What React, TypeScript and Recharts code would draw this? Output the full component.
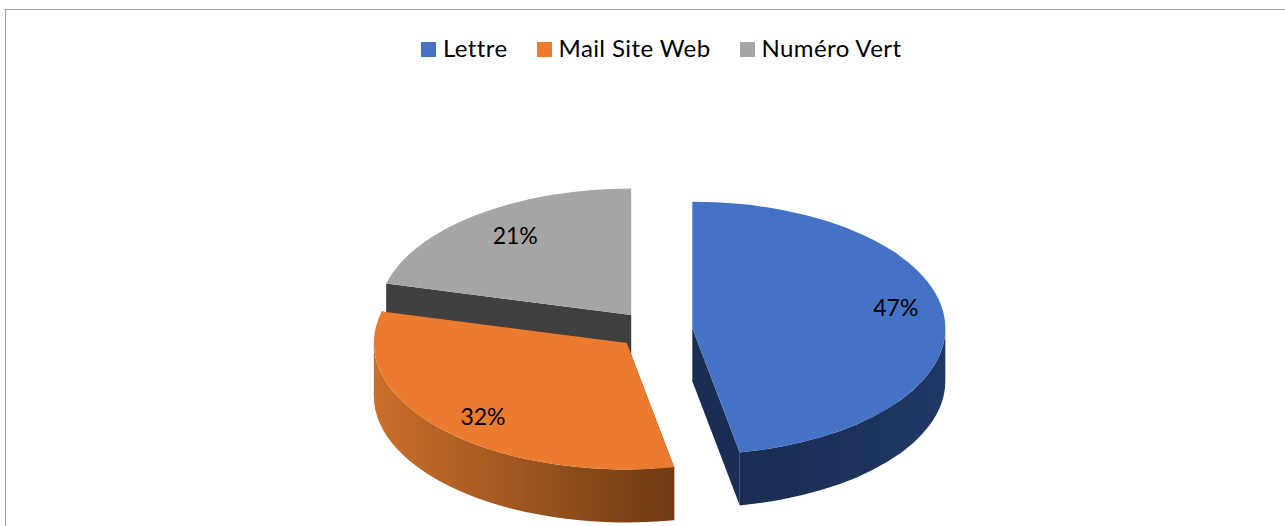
import { Legend, Pie, PieChart } from "recharts"

const categories = ["Lettre", "Mail Site Web", "Numéro Vert"]
const shares = [47, 32, 21]

const topColors = ["#4472c4", "#ea7b2f", "#a5a5a5"]
const cutColors = ["#1a2d52", "#7a3f14", "#404040"]
const wallFrom = ["#1f3864", "#cb6f2b", "#404040"]
const wallTo = ["#1a2d52", "#6f3a13", "#404040"]
const labelNudgeX = [7, 0, 5]
const labelNudgeY = [-12, 5, -2]

// last slice goes first so the front slices paint over the grey cut face
const data = categories
  .map((name, i) => ({ name, value: shares[i], fill: topColors[i] }))
  .reverse()

const SQUASH = 0.5
const DEPTH = 53
const EXPLODE = 38
const RAD = Math.PI / 180
const FONT = "Lato, sans-serif"

// recharts gives circular angles, flatten them to get the tilted look
function sliceCenter(cx: number, cy: number, midAngle: number) {
  return {
    x: cx + EXPLODE * Math.cos(midAngle * RAD),
    y: cy - EXPLODE * SQUASH * Math.sin(midAngle * RAD),
  }
}

function rim(c: { x: number; y: number }, r: number, angle: number) {
  return {
    x: c.x + r * Math.cos(angle * RAD),
    y: c.y - r * SQUASH * Math.sin(angle * RAD),
  }
}

function Slice(props: any) {
  const { cx, cy, outerRadius: r, startAngle, endAngle, midAngle, name, fill } = props
  const index = categories.indexOf(name)
  const c = sliceCenter(cx, cy, midAngle)
  const ry = r * SQUASH
  const a = rim(c, r, endAngle)
  const b = rim(c, r, startAngle)
  const large = Math.abs(startAngle - endAngle) > 180 ? 1 : 0
  const top = `M${c.x},${c.y}L${a.x},${a.y}A${r},${ry} 0 ${large} 1 ${b.x},${b.y}Z`

  const cutFace = (p: { x: number; y: number }) =>
    `M${c.x},${c.y}L${p.x},${p.y}L${p.x},${p.y + DEPTH}L${c.x},${c.y + DEPTH}Z`

  // only the front half of the outer wall can be seen (angles 180 to 360 here)
  const from = Math.min(endAngle, 360)
  const to = Math.max(startAngle, 180)
  let wall = null
  if (from > to) {
    const p = rim(c, r, from)
    const q = rim(c, r, to)
    const d = `M${p.x},${p.y}A${r},${ry} 0 0 1 ${q.x},${q.y}L${q.x},${q.y + DEPTH}A${r},${ry} 0 0 0 ${p.x},${p.y + DEPTH}Z`
    wall = <path d={d} fill={`url(#wall${index})`} />
  }

  return (
    <g>
      <defs>
        <linearGradient id={`wall${index}`} x1={index === 0 ? "1" : "0"} y1="0" x2={index === 0 ? "0" : "1"} y2="0">
          <stop offset="0" stopColor={wallFrom[index]} />
          <stop offset="1" stopColor={wallTo[index]} />
        </linearGradient>
      </defs>
      <path d={cutFace(a)} fill={cutColors[index]} />
      <path d={cutFace(b)} fill={cutColors[index]} />
      {wall}
      <path d={top} fill={fill} />
    </g>
  )
}

function PercentLabel(props: any) {
  const { cx, cy, midAngle, outerRadius, percent, name } = props
  const index = categories.indexOf(name)
  const c = sliceCenter(cx, cy, midAngle)
  const p = rim(c, outerRadius * 0.78, midAngle)
  return (
    <text
      x={p.x + labelNudgeX[index]}
      y={p.y + labelNudgeY[index]}
      textAnchor="middle"
      dominantBaseline="central"
      fontFamily={FONT}
      fontSize={23}
      fill="#000"
    >
      {`${Math.round(percent * 100)}%`}
    </text>
  )
}

export default function App() {
  return (
    <div style={{ position: "absolute", left: 0, top: 0, width: 1285, height: 526, overflow: "hidden", background: "#fff" }}>
      <div style={{ position: "absolute", left: 5, top: 9, width: 1290, height: 530, border: "1px solid #a0a0a0" }} />
      <PieChart width={1285} height={526} margin={{ top: 0, right: 0, bottom: 0, left: 0 }}>
        <Legend
          verticalAlign="top"
          align="left"
          iconType="square"
          iconSize={15}
          itemSorter="value"
          wrapperStyle={{ top: 29, left: 421, width: 800, textAlign: "left" }}
          formatter={(value: string) => (
            <span style={{ color: "#000", fontFamily: FONT, fontSize: 24, letterSpacing: 0.4, marginLeft: 3, marginRight: 19, position: "relative", top: 4 }}>{value}</span>
          )}
        />
        <Pie
          data={data}
          dataKey="value"
          nameKey="name"
          cx={654.5}
          cy={301}
          outerRadius={253}
          startAngle={90}
          endAngle={450}
          stroke="none"
          isAnimationActive={false}
          shape={Slice}
          label={PercentLabel}
          labelLine={false}
        />
      </PieChart>
    </div>
  )
}
